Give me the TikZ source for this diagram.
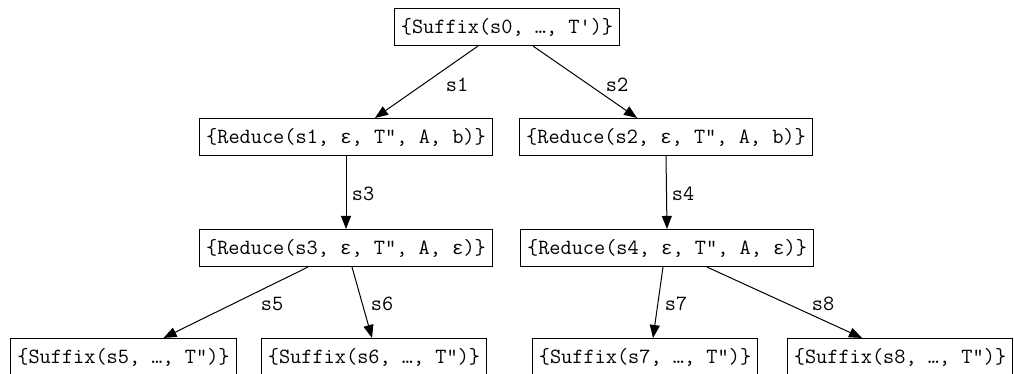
\documentclass[tikz,border=0pt]{standalone}
\usepackage{fontspec}
\newfontfamily\grk{Liberation Mono}
\usetikzlibrary{arrows.meta,calc}
\newcommand{\eps}{{\grk\fontsize{19}{24}\selectfont ε}}
\begin{document}
\begin{tikzpicture}[x=1pt,y=-1pt,
  box/.style={draw=black,line width=1.1pt,fill=white,minimum height=37pt,inner xsep=6.5pt,inner ysep=0pt,
    font=\ttfamily\fontsize{21.7}{24}\selectfont},
  lbl/.style={inner sep=0pt,font=\ttfamily\fontsize{21.7}{24}\selectfont},
  edge/.style={line width=1pt,-{Triangle[length=13pt,width=10pt]}}]
\useasboundingbox (0,0) rectangle (1014,374);
\node[box] (top) at (507,27) {\{Suffix(s0, …, T')\}};
\node[box] (r1) at (346,137) {\{Reduce(s1, \eps, T", A, b)\}};
\node[box] (r2) at (666,137) {\{Reduce(s2, \eps, T", A, b)\}};
\node[box] (r3) at (346,248) {\{Reduce(s3, \eps, T", A, \eps)\}};
\node[box] (r4) at (667,248) {\{Reduce(s4, \eps, T", A, \eps)\}};
\node[box] (b5) at (123.5,357) {\{Suffix(s5, …, T")\}};
\node[box] (b6) at (374,357) {\{Suffix(s6, …, T")\}};
\node[box] (b7) at (645,357) {\{Suffix(s7, …, T")\}};
\node[box] (b8) at (900,357) {\{Suffix(s8, …, T")\}};
\draw[edge] ([xshift=-29pt]top.south) -- ([xshift=29pt]r1.north);
\draw[edge] ([xshift=26pt]top.south) -- ([xshift=-29pt]r2.north);
\draw[edge] (r1.south) -- (r3.north);
\draw[edge] (r2.south) -- (r4.north);
\draw[edge] ([xshift=-38pt]r3.south) -- ([xshift=40pt]b5.north);
\draw[edge] ([xshift=6pt]r3.south) -- ([xshift=-2pt]b6.north);
\draw[edge] ([xshift=-4pt]r4.south) -- ([xshift=8pt]b7.north);
\draw[edge] ([xshift=40pt]r4.south) -- ([xshift=-38pt]b8.north);
\node[lbl] (l1) at (457,85) {s1};
\node[lbl] (l2) at (617,85) {s2};
\node[lbl] (l3) at (363,194) {s3};
\node[lbl] (l4) at (683,194) {s4};
\node[lbl] (l5) at (272,304) {s5};
\node[lbl] (l6) at (382,304) {s6};
\node[lbl] (l7) at (676,304) {s7};
\node[lbl] (l8) at (823,304) {s8};
\end{tikzpicture}
\end{document}
